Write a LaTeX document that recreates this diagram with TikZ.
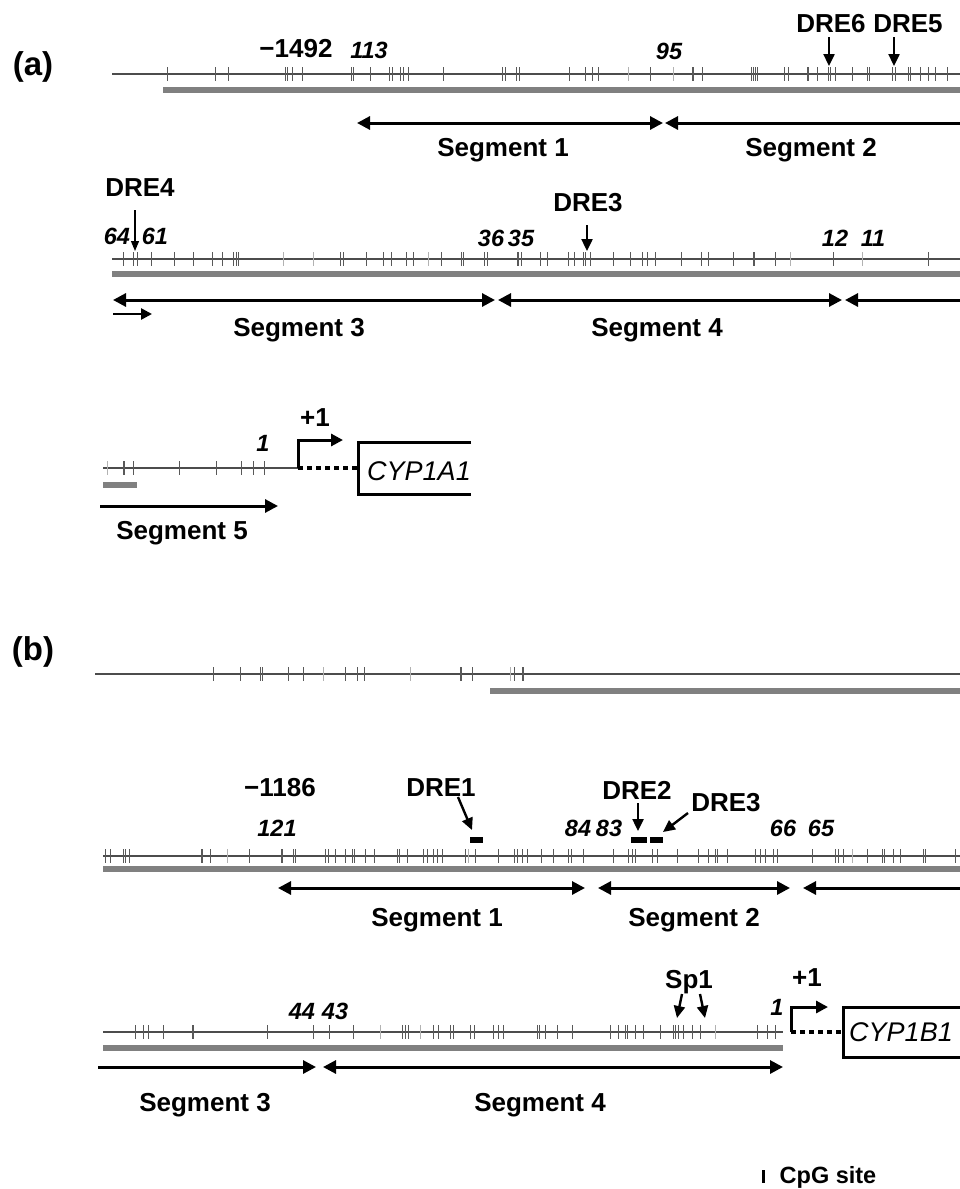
\documentclass[tikz,border=0pt]{standalone}
\usepackage{fontspec}
\setmainfont{Liberation Sans}
\usetikzlibrary{arrows.meta}
\begin{document}
\begin{tikzpicture}[x=1pt,y=-1pt,
  backbone/.style={line width=1.3pt, black!70},
  site/.style={line width=1pt, black!65},
  faint/.style={line width=0.9pt, black!30},
  island/.style={line width=6.5pt, black!50},
  segboth/.style={line width=3pt, {Triangle[length=13pt,width=13pt]}-{Triangle[length=13pt,width=13pt]}},
  segright/.style={line width=3pt, -{Triangle[length=13pt,width=13pt]}},
  segleft/.style={line width=3pt, {Triangle[length=13pt,width=13pt]}-},
  pointer/.style={line width=2.4pt, -{Triangle[length=12pt,width=11pt]}},
  thinpointer/.style={line width=1.2pt, -{Triangle[length=10pt,width=8pt]}},
  promoter/.style={line width=3pt, -{Triangle[length=12pt,width=12pt]}},
  leader/.style={line width=4pt, dash pattern=on 5pt off 4pt},
  genebox/.style={line width=3pt},
  motif/.style={fill=black, inner sep=0pt, minimum height=6pt},
  lbl/.style={font=\bfseries\fontsize{26}{26}\selectfont, inner sep=0pt},
  num/.style={font=\bfseries\itshape\fontsize{23.5}{23.5}\selectfont, inner sep=0pt},
  panel/.style={font=\bfseries\fontsize{33}{33}\selectfont, inner sep=0pt},
  gene/.style={font=\itshape\fontsize{27}{27}\selectfont, inner sep=0pt}
]
\useasboundingbox[fill=white] (0,0) rectangle (959,1189);

% ---------------- (a) CYP1A1 ----------------
\node[panel] (pa) at (33,67) {(a)};

% row 1
\draw[backbone] (112,74) -- (962,74);
\foreach \x in {167,215,228,285,287,292,302,351,353,370,389,392,400,403,408,443,502,505,516,519,569,585,592,598,650,692,693,702,751,753,755,757,784,788,807,808,817,828,830,835,852,867,869,892,895,908,910,920,928,935,947}
  \draw[site] (\x,67) -- (\x,81);
\foreach \x in {628,673}
  \draw[faint] (\x,67) -- (\x,81);
\draw[island] (163,90) -- (962,90);
\node[lbl] (m1492) at (296,49) {−1492};
\node[num] (n113) at (369,50) {113};
\node[num] (n95) at (669,51) {95};
\node[lbl] (dre6) at (831,24) {DRE6};
\node[lbl] (dre5) at (908,24) {DRE5};
\coordinate (dre6s) at (829,37); \coordinate (dre6t) at (829,66);
\coordinate (dre5s) at (894,37); \coordinate (dre5t) at (894,66);
\draw[pointer] (dre6s) -- (dre6t);
\draw[pointer] (dre5s) -- (dre5t);
\coordinate (sa1L) at (357,123); \coordinate (sa1R) at (663,123);
\coordinate (sa2L) at (665,123); \coordinate (sa2R) at (962,123);
\draw[segboth] (sa1L) -- (sa1R);
\draw[segleft] (sa2L) -- (sa2R);
\node[lbl] (sega1) at (503,150) {Segment 1};
\node[lbl] (sega2) at (811,150) {Segment 2};

% row 2
\node[lbl] (dre4) at (140,188) {DRE4};
\coordinate (dre4s) at (135,210); \coordinate (dre4t) at (135,251);
\draw[thinpointer] (dre4s) -- (dre4t);
\node[num] (n64) at (117,236) {64};
\node[num] (n61) at (155,236) {61};
\node[num] (n36) at (491,238) {36};
\node[num] (n35) at (521,238) {35};
\node[lbl] (dre3a) at (588,203) {DRE3};
\coordinate (dre3as) at (587,225); \coordinate (dre3at) at (587,251);
\draw[pointer] (dre3as) -- (dre3at);
\node[num] (n12) at (835,238) {12};
\node[num] (n11) at (873,238) {11};
\draw[backbone] (112,259) -- (962,259);
\foreach \x in {123,133,137,151,174,193,212,222,233,236,238,340,343,366,383,391,406,413,441,461,463,484,487,517,518,521,540,547,568,574,583,585,590,613,630,642,647,655,681,701,708,733,753,754,775,833,928}
  \draw[site] (\x,252) -- (\x,266);
\foreach \x in {283,313,428,790,862}
  \draw[faint] (\x,252) -- (\x,266);
\draw[island] (112,274) -- (962,274);
\coordinate (sa3L) at (113,300); \coordinate (sa3R) at (495,300);
\coordinate (sa4L) at (498,300); \coordinate (sa4R) at (842,300);
\coordinate (sa5L) at (845,300); \coordinate (sa5R) at (962,300);
\coordinate (fwdL) at (113,314); \coordinate (fwdR) at (152,314);
\draw[segboth] (sa3L) -- (sa3R);
\draw[segboth] (sa4L) -- (sa4R);
\draw[segleft] (sa5L) -- (sa5R);
\draw[line width=2.6pt, -{Triangle[length=11pt,width=11pt]}] (fwdL) -- (fwdR);
\node[lbl] (sega3) at (299,330) {Segment 3};
\node[lbl] (sega4) at (657,330) {Segment 4};

% row 3
\draw[backbone] (103,468) -- (298,468);
\foreach \x in {123,124,133,179,216,241,253,264}
  \draw[site] (\x,461) -- (\x,475);
\draw[faint] (107,461) -- (107,475);
\node[num] (n1a) at (263,443) {1};
\coordinate (tssa) at (298,468); \coordinate (tssaup) at (298,440); \coordinate (tssatip) at (343,440);
\draw[promoter] (tssa) -- (tssaup) -- (tssatip);
\node[lbl] (plusa) at (315,418) {+1};
\coordinate (genea) at (357,468);
\draw[leader] (tssa) -- (genea);
\draw[genebox] (471,442) -- (358,442) -- (358,494) -- (471,494);
\node[gene] (cyp1a1) at (419,471) {CYP1A1};
\draw[island] (103,485) -- (137,485);
\coordinate (sa6L) at (100,506); \coordinate (sa6R) at (278,506);
\draw[segright] (sa6L) -- (sa6R);
\node[lbl] (sega5) at (182,533) {Segment 5};

% ---------------- (b) CYP1B1 ----------------
\node[panel] (pb) at (33,652) {(b)};

% row 1
\draw[backbone] (95,674) -- (962,674);
\foreach \x in {213,240,260,262,288,303,345,357,364,460,461,472,514,522,523}
  \draw[site] (\x,667) -- (\x,681);
\foreach \x in {323,410,510}
  \draw[faint] (\x,667) -- (\x,681);
\draw[island] (490,691) -- (962,691);

% row 2
\node[lbl] (m1186) at (280,788) {−1186};
\node[num] (n121) at (277,828) {121};
\node[lbl] (dre1) at (441,788) {DRE1};
\coordinate (dre1s) at (458,797); \coordinate (dre1t) at (472,830);
\draw[pointer] (dre1s) -- (dre1t);
\node[motif, minimum width=13pt] (box1) at (476.5,839.5) {};
\node[lbl] (dre2) at (637,790) {DRE2};
\coordinate (dre2s) at (638,803); \coordinate (dre2t) at (638,831);
\draw[pointer] (dre2s) -- (dre2t);
\node[lbl] (dre3b) at (726,803) {DRE3};
\coordinate (dre3bs) at (688,813); \coordinate (dre3bt) at (663,832);
\draw[pointer] (dre3bs) -- (dre3bt);
\node[motif, minimum width=16pt] (box2) at (639,840) {};
\node[motif, minimum width=13pt] (box3) at (656.5,840) {};
\node[num] (n84) at (578,828) {84};
\node[num] (n83) at (609,828) {83};
\node[num] (n66) at (783,828) {66};
\node[num] (n65) at (821,828) {65};
\draw[backbone] (103,856) -- (962,856);
\foreach \x in {105,110,123,125,129,201,202,210,249,281,282,293,295,325,328,335,345,352,354,365,374,397,399,407,423,427,433,437,442,465,475,498,514,517,522,527,541,553,568,571,583,613,628,632,635,652,657,677,698,708,715,717,727,755,760,765,773,777,812,835,838,843,867,882,884,893,900,923,925,955}
  \draw[site] (\x,849) -- (\x,863);
\foreach \x in {227,468,852}
  \draw[faint] (\x,849) -- (\x,863);
\draw[island] (103,869) -- (962,869);
\coordinate (sb1L) at (278,888); \coordinate (sb1R) at (585,888);
\coordinate (sb2L) at (598,888); \coordinate (sb2R) at (790,888);
\coordinate (sb3L) at (803,888); \coordinate (sb3R) at (962,888);
\draw[segboth] (sb1L) -- (sb1R);
\draw[segboth] (sb2L) -- (sb2R);
\draw[segleft] (sb3L) -- (sb3R);
\node[lbl] (segb1) at (437,920) {Segment 1};
\node[lbl] (segb2) at (694,920) {Segment 2};

% row 3
\node[num] (n44) at (302,1011) {44};
\node[num] (n43) at (335,1011) {43};
\node[lbl] (sp1) at (689,982) {Sp1};
\coordinate (sp1as) at (682,994); \coordinate (sp1at) at (677,1018);
\coordinate (sp1bs) at (700,994); \coordinate (sp1bt) at (705,1018);
\draw[pointer] (sp1as) -- (sp1at);
\draw[pointer] (sp1bs) -- (sp1bt);
\node[num] (n1b) at (777,1007) {1};
\draw[backbone] (103,1032) -- (783,1032);
\foreach \x in {135,143,148,163,192,193,267,313,329,353,402,405,408,433,438,450,453,470,474,493,498,503,537,539,545,557,572,610,618,625,627,635,643,660,673,675,678,683,692,700,757,767,775}
  \draw[site] (\x,1025) -- (\x,1039);
\foreach \x in {380,420,715}
  \draw[faint] (\x,1025) -- (\x,1039);
\coordinate (tssb) at (791,1032); \coordinate (tssbup) at (791,1007); \coordinate (tssbtip) at (828,1007);
\draw[promoter] (tssb) -- (tssbup) -- (tssbtip);
\node[lbl] (plusb) at (807,978) {+1};
\coordinate (geneb) at (842,1032);
\draw[leader] (tssb) -- (geneb);
\draw[genebox] (962,1007) -- (843,1007) -- (843,1057) -- (962,1057);
\node[gene] (cyp1b1) at (901,1032) {CYP1B1};
\draw[island] (103,1048) -- (783,1048);
\coordinate (sb4L) at (98,1067); \coordinate (sb4R) at (316,1067);
\coordinate (sb5L) at (323,1067); \coordinate (sb5R) at (783,1067);
\draw[segright] (sb4L) -- (sb4R);
\draw[segboth] (sb5L) -- (sb5R);
\node[lbl] (segb3) at (205,1105) {Segment 3};
\node[lbl] (segb4) at (540,1105) {Segment 4};

% legend
\draw[line width=3pt] (763,1170) -- (763,1183);
\node[lbl, font=\bfseries\fontsize{23.5}{23.5}\selectfont] (cpg) at (828,1177) {CpG site};
\end{tikzpicture}
\end{document}
